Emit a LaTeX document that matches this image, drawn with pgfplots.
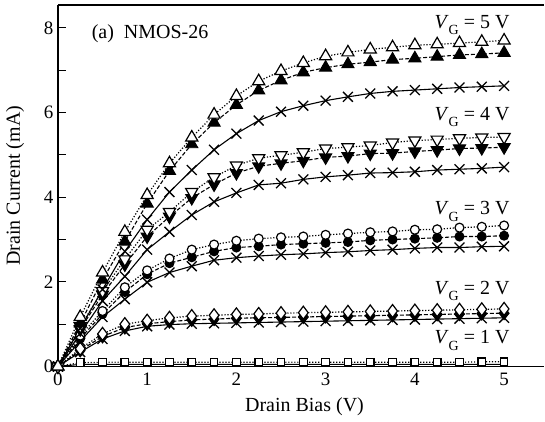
\documentclass[border=0pt]{standalone}
\usepackage{fontspec}
\setmainfont{Liberation Serif}
\usepackage{pgfplots}
\pgfplotsset{compat=1.18}
\usepackage{pgfplotstable}

\pgfplotstableread{
x    o5   f5   c5   o4   f4   c4   o3   f3   c3   o2   f2   c2   o1   c1
0    0    0    0    0    0    0    0    0    0    0    0    0    0    0
0.25 1.17 1.02 0.90 0.95 0.88 0.78 0.73 0.66 0.60 0.42 0.38 0.34 0.09 0.05
0.5  2.22 2.05 1.82 1.78 1.70 1.55 1.31 1.24 1.17 0.77 0.71 0.65 0.10 0.05
0.75 3.18 2.95 2.72 2.53 2.41 2.13 1.87 1.76 1.59 1.00 0.92 0.84 0.10 0.05
1.0  4.05 3.85 3.47 3.23 3.07 2.76 2.27 2.18 1.99 1.08 1.01 0.95 0.10 0.05
1.25 4.80 4.62 4.12 3.65 3.54 3.18 2.55 2.44 2.22 1.15 1.06 0.99 0.10 0.05
1.5  5.41 5.25 4.64 4.12 3.98 3.58 2.76 2.58 2.37 1.19 1.10 1.01 0.10 0.05
1.75 5.95 5.76 5.12 4.47 4.30 3.89 2.88 2.72 2.51 1.21 1.12 1.02 0.10 0.05
2.0  6.39 6.18 5.50 4.75 4.57 4.10 2.97 2.81 2.57 1.23 1.14 1.03 0.10 0.05
2.25 6.74 6.52 5.81 4.92 4.73 4.29 3.02 2.84 2.61 1.24 1.15 1.04 0.10 0.05
2.5  6.98 6.76 6.02 4.99 4.80 4.33 3.05 2.88 2.64 1.26 1.16 1.05 0.10 0.05
2.75 7.17 6.95 6.16 5.06 4.86 4.42 3.07 2.90 2.66 1.27 1.17 1.06 0.10 0.05
3.0  7.33 7.06 6.28 5.15 4.94 4.48 3.11 2.92 2.69 1.28 1.18 1.07 0.10 0.05
3.25 7.42 7.14 6.37 5.18 4.97 4.52 3.14 2.94 2.71 1.29 1.19 1.08 0.10 0.05
3.5  7.49 7.19 6.45 5.22 5.03 4.57 3.17 2.98 2.74 1.30 1.20 1.09 0.10 0.05
3.75 7.54 7.25 6.50 5.29 5.04 4.58 3.19 3.00 2.76 1.31 1.21 1.10 0.10 0.05
4.0  7.59 7.28 6.53 5.34 5.08 4.60 3.23 3.02 2.79 1.32 1.22 1.11 0.10 0.05
4.25 7.61 7.32 6.56 5.36 5.11 4.64 3.24 3.04 2.81 1.33 1.23 1.12 0.10 0.05
4.5  7.64 7.36 6.59 5.39 5.15 4.66 3.28 3.07 2.81 1.34 1.24 1.13 0.10 0.05
4.75 7.67 7.38 6.61 5.41 5.16 4.68 3.30 3.07 2.83 1.35 1.25 1.14 0.11 0.05
5.0  7.70 7.41 6.63 5.42 5.18 4.71 3.33 3.09 2.84 1.36 1.26 1.15 0.11 0.05
}\data

\newcommand{\VG}[1]{\textit{V}\raisebox{-0.7ex}{\fontsize{14}{14}\selectfont G} = #1 V}

\begin{document}
\begin{tikzpicture}
\begin{axis}[
  scale only axis,
  width=487pt, height=362pt,
  xmin=0, xmax=5.45, ymin=0, ymax=8.54,
  axis x line*=bottom, axis y line*=left,
  axis line style={-, line width=1.5pt},
  clip=false,
  xtick={0,1,2,3,4,5},
  minor xtick={0.5,1.5,2.5,3.5,4.5},
  ytick={0,2,4,6,8},
  minor ytick={1,3,5,7},
  tick align=inside,
  major tick length=8pt, minor tick length=8pt,
  tick style={line width=1.2pt, black},
  /pgf/number format/assume math mode=true,
  tick label style={font=\fontsize{19}{19}\selectfont},
  xticklabel style={yshift=-3pt},
  yticklabel style={xshift=-1pt},
  xlabel={Drain Bias (V)},
  ylabel={Drain Current (mA)},
  every axis x label/.style={at={(axis description cs:0.507,-0.124)}, anchor=base, font=\fontsize{20}{24}\selectfont},
  every axis y label/.style={at={(axis description cs:-0.0883,0.5)}, rotate=90, anchor=center, font=\fontsize{20}{24}\selectfont},
  cross/.style={solid, line width=1.1pt, mark=x, mark size=7pt, mark options={solid, line width=1.3pt}},
  filled/.style={dash pattern=on 4pt off 2pt, line width=1.1pt, mark options={solid, fill=black, line width=1pt}},
  open/.style={dash pattern=on 1.2pt off 1.8pt, line width=1.2pt, mark options={solid, fill=white, line width=1.2pt}},
]
% VG = 1
\addplot[solid, line width=1.1pt, black] table[x=x, y=c1] {\data};
\addplot[open, black, mark=square*, mark size=3.8pt] table[x=x, y=o1] {\data};
% VG = 2
\addplot[cross, black] table[x=x, y=c2] {\data};
\addplot[filled, black, mark=diamond*, mark size=6.5pt] table[x=x, y=f2] {\data};
\addplot[open, black, mark=diamond*, mark size=6.5pt] table[x=x, y=o2] {\data};
% VG = 3
\addplot[cross, black] table[x=x, y=c3] {\data};
\addplot[filled, black, mark=*, mark size=4.5pt] table[x=x, y=f3] {\data};
\addplot[open, black, mark=*, mark size=4.5pt] table[x=x, y=o3] {\data};
% VG = 4
\addplot[cross, black] table[x=x, y=c4] {\data};
\addplot[filled, black, mark=triangle*, mark size=7pt, every mark/.append style={rotate=180}] table[x=x, y=f4] {\data};
\addplot[open, black, mark=triangle*, mark size=7pt, every mark/.append style={rotate=180}] table[x=x, y=o4] {\data};
% VG = 5
\addplot[cross, black] table[x=x, y=c5] {\data};
\addplot[filled, black, mark=triangle*, mark size=7pt] table[x=x, y=f5] {\data};
\addplot[open, black, mark=triangle*, mark size=7pt] table[x=x, y=o5] {\data};

\draw[line width=1.5pt] (rel axis cs:0,1) -- (rel axis cs:1,1);
\path ([yshift=5pt]rel axis cs:0,1);
\path ([xshift=-58pt]rel axis cs:0,0.5);
\path ([yshift=-55pt]rel axis cs:0.5,0);

\node[anchor=base west, font=\fontsize{20}{24}\selectfont] at (axis cs:0.34,7.74) {(a)\ \ NMOS-26};
\node[anchor=base east, font=\fontsize{20}{24}\selectfont] at (axis cs:5.1,7.99) {\VG{5}};
\node[anchor=base east, font=\fontsize{20}{24}\selectfont] at (axis cs:5.1,5.81) {\VG{4}};
\node[anchor=base east, font=\fontsize{20}{24}\selectfont] at (axis cs:5.1,3.58) {\VG{3}};
\node[anchor=base east, font=\fontsize{20}{24}\selectfont] at (axis cs:5.1,1.71) {\VG{2}};
\node[anchor=base east, font=\fontsize{20}{24}\selectfont] at (axis cs:5.1,0.54) {\VG{1}};
\end{axis}
\end{tikzpicture}
\end{document}
